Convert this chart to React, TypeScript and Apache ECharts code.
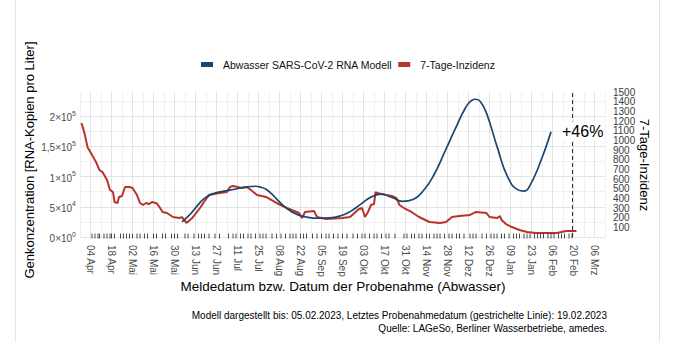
import React, { useEffect, useRef } from "react";
import * as echarts from "echarts";

// ---------- data ----------
const xTickLabels = [
  "04 Apr", "18 Apr", "02 Mai", "16 Mai", "30 Mai", "13 Jun", "27 Jun", "11 Jul", "25 Jul",
  "08 Aug", "22 Aug", "05 Sep", "19 Sep", "03 Okt", "17 Okt", "31 Okt", "14 Nov", "28 Nov",
  "12 Dez", "26 Dez", "09 Jan", "23 Jan", "06 Feb", "20 Feb", "06 Mrz",
];
const leftTickValues = [0, 50000, 100000, 150000, 200000];
const leftTickMantissa = ["0", "5", "1", "1,5", "2"];
const leftTickExponent = ["0", "4", "5", "5", "5"];
const rightTickValues = [100, 200, 300, 400, 500, 600, 700, 800, 900, 1000, 1100, 1200, 1300, 1400, 1500];

const blueDates = [
  "2022-06-04", "2022-06-08", "2022-06-11", "2022-06-15", "2022-06-18", "2022-06-22", "2022-06-25",
  "2022-07-02", "2022-07-09", "2022-07-16", "2022-07-23", "2022-07-27", "2022-07-30", "2022-08-03",
  "2022-08-06", "2022-08-13", "2022-08-20", "2022-08-27", "2022-09-03", "2022-09-10", "2022-09-17",
  "2022-09-24", "2022-10-01", "2022-10-08", "2022-10-15", "2022-10-22", "2022-10-29", "2022-11-05",
  "2022-11-12", "2022-11-19", "2022-11-26", "2022-12-03", "2022-12-10", "2022-12-14", "2022-12-17",
  "2022-12-20", "2022-12-24", "2022-12-31", "2023-01-07", "2023-01-14", "2023-01-18", "2023-01-21",
  "2023-01-28", "2023-02-05",
];
const blueValues = [
  25000, 34000, 42000, 54000, 62000, 69000, 72000,
  76000, 79000, 82500, 84000, 82000, 79000, 71000,
  63000, 47000, 37000, 32500, 31000, 31500, 34500,
  42000, 54000, 66000, 71000, 65500, 59000, 62000,
  77000, 103000, 140000, 178000, 214000, 226000, 228000,
  224000, 205000, 150000, 100000, 78000, 76000, 81000,
  118000, 174000,
];

const redDates = [
  "2022-03-29", "2022-03-31", "2022-04-02", "2022-04-05", "2022-04-08", "2022-04-10", "2022-04-12",
  "2022-04-15", "2022-04-17", "2022-04-19", "2022-04-20", "2022-04-22", "2022-04-23", "2022-04-25",
  "2022-04-27", "2022-04-30", "2022-05-02", "2022-05-05", "2022-05-07", "2022-05-09", "2022-05-11",
  "2022-05-13", "2022-05-15", "2022-05-18", "2022-05-20", "2022-05-22", "2022-05-25", "2022-05-29",
  "2022-06-02", "2022-06-04", "2022-06-07", "2022-06-11", "2022-06-16", "2022-06-19", "2022-06-22",
  "2022-06-29", "2022-07-04", "2022-07-06", "2022-07-08", "2022-07-14", "2022-07-17", "2022-07-20",
  "2022-07-24", "2022-07-30", "2022-08-06", "2022-08-13", "2022-08-21", "2022-08-23", "2022-08-25",
  "2022-08-31", "2022-09-02", "2022-09-08", "2022-09-19", "2022-09-24", "2022-09-30", "2022-10-02",
  "2022-10-04", "2022-10-06", "2022-10-08", "2022-10-10", "2022-10-11", "2022-10-12", "2022-10-18",
  "2022-10-22", "2022-10-25", "2022-10-27", "2022-10-30", "2022-11-04", "2022-11-09", "2022-11-16",
  "2022-11-23", "2022-11-27", "2022-12-01", "2022-12-06", "2022-12-13", "2022-12-17", "2022-12-24",
  "2022-12-26", "2022-12-31", "2023-01-02", "2023-01-03", "2023-01-06", "2023-01-10", "2023-01-15",
  "2023-01-20", "2023-01-26", "2023-02-09", "2023-02-15", "2023-02-22",
];
const redValues = [
  1180, 1075, 930, 850, 765, 693, 672,
  590, 486, 465, 362, 352, 414, 424,
  517, 517, 507, 434, 352, 331, 352,
  341, 362, 350, 310, 259, 248, 207,
  196, 205, 145, 200, 300, 370, 434,
  455, 465, 517, 527, 507, 517, 486,
  434, 414, 352, 300, 248, 196, 259,
  269, 207, 186, 196, 207, 290, 300,
  207, 259, 331, 341, 465, 455, 434,
  424, 403, 331, 300, 259, 207, 155,
  145, 155, 207, 217, 228, 259, 248,
  207, 196, 215, 176, 134, 103, 72,
  52, 41, 41, 62, 62,
];

const rugDates = [
  "2022-04-05", "2022-04-07", "2022-04-09", "2022-04-10", "2022-04-13", "2022-04-15", "2022-04-17",
  "2022-04-18", "2022-04-20", "2022-04-24", "2022-04-26", "2022-04-28", "2022-04-30", "2022-05-02",
  "2022-05-05", "2022-05-07", "2022-05-10", "2022-05-12", "2022-05-16", "2022-05-18", "2022-05-22",
  "2022-05-24", "2022-05-28", "2022-05-30", "2022-06-01", "2022-06-06", "2022-06-08", "2022-06-12",
  "2022-06-15", "2022-06-17", "2022-06-19", "2022-06-22", "2022-06-26", "2022-06-29", "2022-07-05",
  "2022-07-08", "2022-07-10", "2022-07-13", "2022-07-15", "2022-07-18", "2022-07-20", "2022-07-23",
  "2022-07-26", "2022-07-28", "2022-07-30", "2022-08-03", "2022-08-06", "2022-08-09", "2022-08-12",
  "2022-08-15", "2022-08-17", "2022-08-19", "2022-08-22", "2022-08-24", "2022-08-26", "2022-08-30",
  "2022-09-02", "2022-09-05", "2022-09-08", "2022-09-10", "2022-09-13", "2022-09-16", "2022-09-19",
  "2022-09-22", "2022-09-26", "2022-09-29", "2022-10-02", "2022-10-04", "2022-10-07", "2022-10-10",
  "2022-10-12", "2022-10-15", "2022-10-18", "2022-10-20", "2022-10-24", "2022-10-30", "2022-11-01",
  "2022-11-04", "2022-11-06", "2022-11-09", "2022-11-11", "2022-11-14", "2022-11-16", "2022-11-19",
  "2022-11-21", "2022-11-23", "2022-11-26", "2022-11-29", "2022-12-01", "2022-12-04", "2022-12-06",
  "2022-12-09", "2022-12-13", "2022-12-15", "2022-12-17", "2022-12-21", "2022-12-24", "2022-12-27",
  "2022-12-29", "2022-12-31", "2023-01-03", "2023-01-05", "2023-01-08", "2023-01-11", "2023-01-13",
  "2023-01-15", "2023-01-18", "2023-01-20", "2023-01-22", "2023-01-25", "2023-01-27", "2023-01-29",
  "2023-01-31", "2023-02-03", "2023-02-05", "2023-02-07", "2023-02-10", "2023-02-12", "2023-02-14",
  "2023-02-17", "2023-02-19",
];

const lastSampleDate = "2023-02-19";
const changeLabel = "+46%";

// ---------- helpers ----------
const BASE = Date.UTC(2022, 3, 4);
const toDay = (s: string) => {
  const [y, m, d] = s.split("-").map(Number);
  return (Date.UTC(y, m - 1, d) - BASE) / 86400000;
};

const FONT = "'Liberation Sans', Arial, Helvetica, sans-serif";
const BLUE = "#1b4670";
const RED = "#b8332a";

export default function App() {
  const ref = useRef<HTMLDivElement>(null);

  useEffect(() => {
    if (!ref.current) return;
    const chart = echarts.init(ref.current, undefined, { renderer: "svg" });

    const option: any = {
      animation: false,
      backgroundColor: "#ffffff",
      textStyle: { fontFamily: FONT },
      legend: {
        left: 201,
        top: 59,
        padding: 0,
        itemWidth: 12,
        itemHeight: 5,
        itemGap: 6,
        icon: "rect",
        data: ["Abwasser SARS-CoV-2 RNA Modell", "7-Tage-Inzidenz"],
        textStyle: { fontSize: 10.5, color: "#111", fontFamily: FONT, padding: [0, 0, 0, 5] },
      },
      grid: {
        left: 80,
        right: 69,
        top: 92,
        bottom: 105,
        containLabel: false,
        outerBoundsMode: "none",
      },
      xAxis: {
        type: "value",
        min: -7,
        max: 343,
        interval: 7,
        axisLine: { show: false },
        axisTick: { show: false },
        axisLabel: {
          rotate: -90,
          margin: 8,
          fontSize: 10,
          color: "#4d4d4d",
          fontFamily: FONT,
          formatter: (v: number) => {
            if (v < 0 || v % 14 !== 0) return "";
            const i = v / 14;
            return i < xTickLabels.length ? xTickLabels[i] : "";
          },
        },
        splitLine: {
          show: true,
          lineStyle: { color: ["#f0f0f0", "#e3e3e3"], width: 1 },
        },
      },
      yAxis: [
        {
          type: "value",
          position: "left",
          min: 0,
          max: 240000,
          interval: 25000,
          axisLine: { show: false },
          axisTick: { show: false },
          axisLabel: {
            margin: 4,
            fontSize: 10,
            color: "#4d4d4d",
            fontFamily: FONT,
            formatter: (v: number) => {
              const i = leftTickValues.indexOf(v);
              return i >= 0 ? `{m|${leftTickMantissa[i]}×10}{e|${leftTickExponent[i]}}` : "";
            },
            rich: {
              m: { fontSize: 10, color: "#4d4d4d", fontFamily: FONT, verticalAlign: "bottom" },
              e: { fontSize: 7, color: "#4d4d4d", fontFamily: FONT, padding: [0, 0, 6, 0], verticalAlign: "bottom" },
            },
          },
          splitLine: {
            show: true,
            showMaxLine: false,
            lineStyle: { color: ["#e3e3e3", "#f0f0f0"], width: 1 },
          },
        },
        {
          type: "value",
          position: "right",
          min: 0,
          max: 1500.5,
          interval: 100,
          axisLine: { show: false },
          axisTick: { show: false },
          splitLine: { show: false },
          axisLabel: {
            margin: 8,
            fontSize: 10,
            lineHeight: 9.5,
            color: "#3a3a3a",
            fontFamily: FONT,
            formatter: (v: number) => (rightTickValues.indexOf(v) >= 0 ? String(v) : ""),
          },
        },
      ],
      series: [
        {
          name: "7-Tage-Inzidenz",
          type: "line",
          yAxisIndex: 1,
          showSymbol: false,
          symbol: "none",
          z: 2,
          color: RED,
          lineStyle: { color: RED, width: 2 },
          data: redDates.map((d, i) => [toDay(d), redValues[i]]),
          markLine: {
            silent: true,
            symbol: ["none", "none"],
            label: { show: false },
            lineStyle: { type: [4, 3], color: "#333", width: 1 },
            data: [{ xAxis: toDay(lastSampleDate) }],
          },
        },
        {
          name: "Abwasser SARS-CoV-2 RNA Modell",
          type: "line",
          yAxisIndex: 0,
          showSymbol: false,
          symbol: "none",
          smooth: 0.5,
          z: 3,
          color: BLUE,
          lineStyle: { color: BLUE, width: 1.7 },
          data: blueDates.map((d, i) => [toDay(d), blueValues[i]]),
        },
        {
          name: "rug",
          type: "scatter",
          yAxisIndex: 0,
          silent: true,
          clip: false,
          symbol: "rect",
          symbolSize: [1, 5],
          symbolOffset: [0, -1],
          z: 4,
          itemStyle: { color: "#222" },
          data: rugDates.map((d) => [toDay(d), 0]),
        },
      ],
      graphic: [
        { type: "line", shape: { x1: 15.5, y1: 0, x2: 15.5, y2: 342 }, style: { stroke: "#e4e4e4", lineWidth: 1 } },
        { type: "line", shape: { x1: 659.5, y1: 0, x2: 659.5, y2: 342 }, style: { stroke: "#e4e4e4", lineWidth: 1 } },
        {
          type: "text",
          x: 29,
          y: 160,
          rotation: Math.PI / 2,
          style: {
            text: "Genkonzentration [RNA-Kopien pro Liter]",
            fontSize: 13,
            fontFamily: FONT,
            fill: "#000",
            align: "center",
            verticalAlign: "middle",
          },
        },
        {
          type: "text",
          x: 644,
          y: 165,
          rotation: -Math.PI / 2,
          style: {
            text: "7-Tage-Inzidenz",
            fontSize: 13,
            fontFamily: FONT,
            fill: "#000",
            align: "center",
            verticalAlign: "middle",
          },
        },
        {
          type: "text",
          x: 343,
          y: 286,
          style: {
            text: "Meldedatum bzw. Datum der Probenahme (Abwasser)",
            fontSize: 13.5,
            fontFamily: FONT,
            fill: "#000",
            align: "center",
            verticalAlign: "middle",
          },
        },
        {
          type: "text",
          x: 561,
          y: 131,
          z: 100,
          style: {
            text: changeLabel,
            fontSize: 16,
            fontFamily: FONT,
            fill: "#000",
            align: "left",
            verticalAlign: "middle",
            backgroundColor: "#ffffff",
            padding: [2, 1, 1, 1],
          },
        },
        {
          type: "text",
          x: 607,
          y: 315,
          style: {
            text: "Modell dargestellt bis: 05.02.2023, Letztes Probenahmedatum (gestrichelte Linie): 19.02.2023",
            fontSize: 10,
            fontFamily: FONT,
            fill: "#000",
            align: "right",
            verticalAlign: "middle",
          },
        },
        {
          type: "text",
          x: 607,
          y: 328,
          style: {
            text: "Quelle: LAGeSo, Berliner Wasserbetriebe, amedes.",
            fontSize: 10,
            fontFamily: FONT,
            fill: "#000",
            align: "right",
            verticalAlign: "middle",
          },
        },
      ],
    };

    chart.setOption(option);
    return () => chart.dispose();
  }, []);

  return (
    <div
      ref={ref}
      style={{ position: "fixed", left: 0, top: 0, width: 674, height: 342, background: "#fff" }}
    />
  );
}
